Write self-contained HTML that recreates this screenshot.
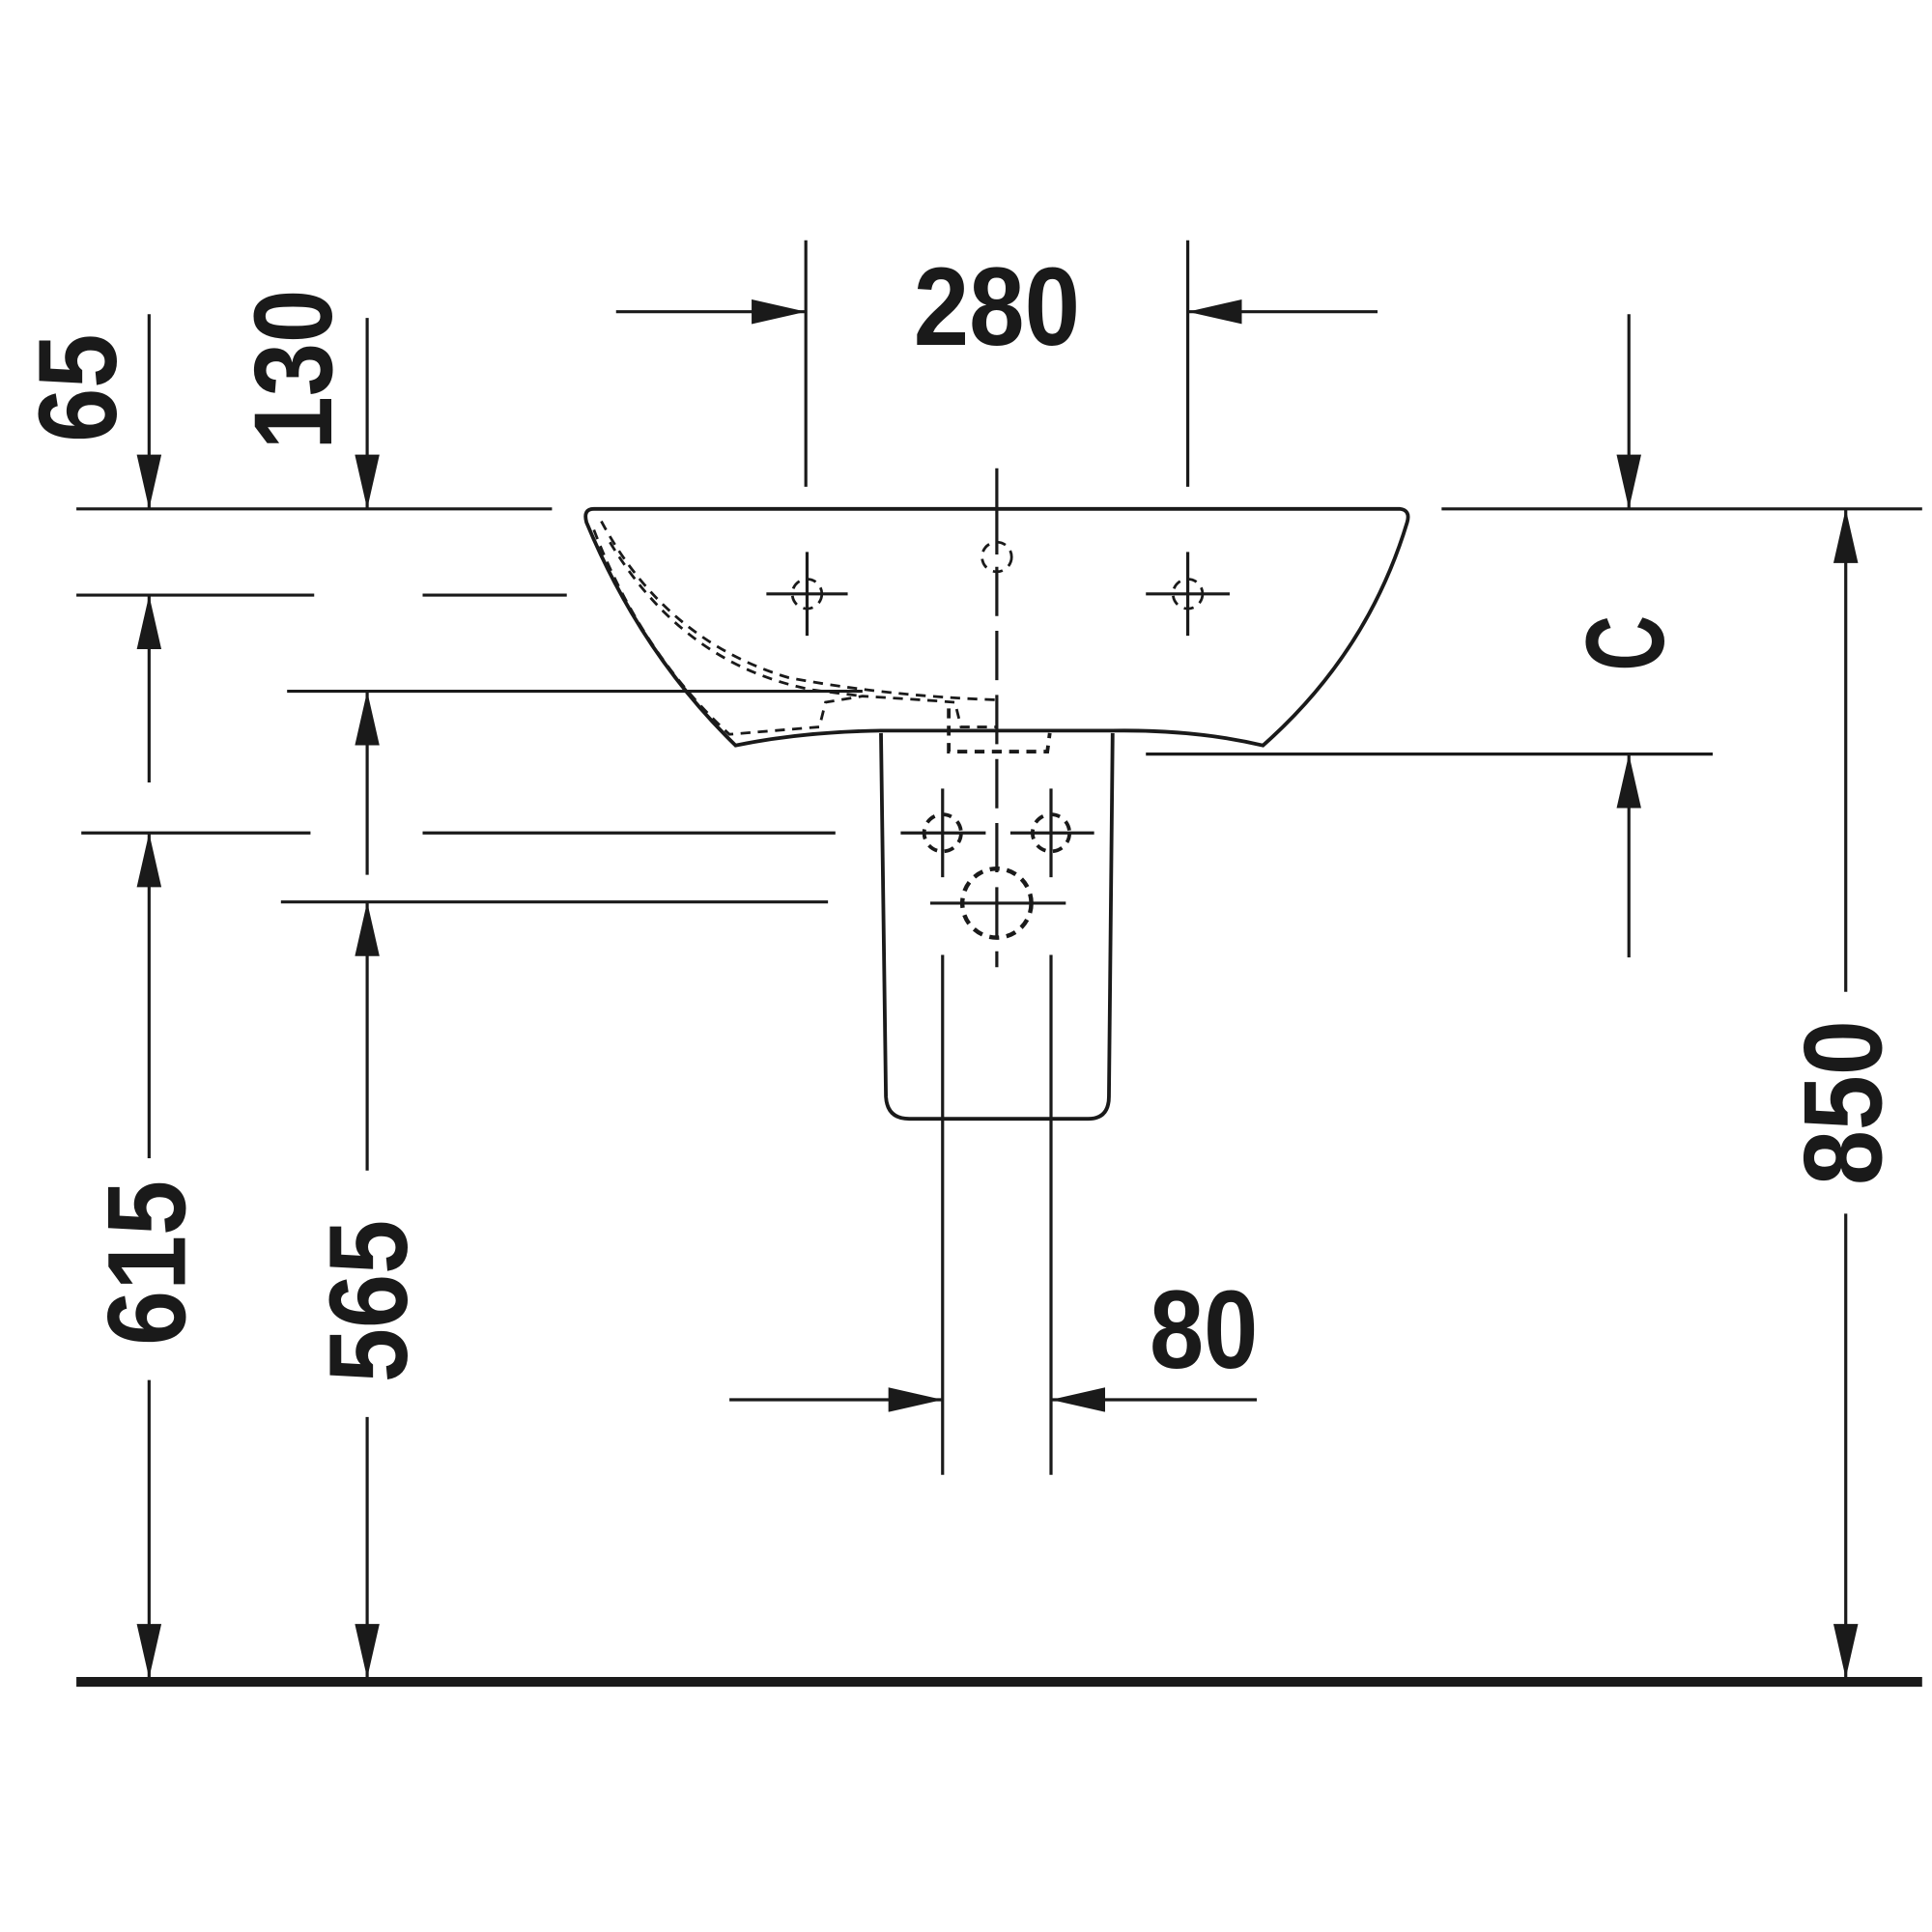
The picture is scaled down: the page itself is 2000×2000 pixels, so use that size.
<!DOCTYPE html>
<html><head><meta charset="utf-8"><style>html,body{margin:0;padding:0;background:#fff}svg{display:block}</style></head>
<body>
<svg width="2000" height="2000" viewBox="0 0 1568 1568" xmlns="http://www.w3.org/2000/svg">
<defs>
<marker id="ar" markerWidth="44" markerHeight="20" refX="44" refY="10" orient="auto" markerUnits="userSpaceOnUse"><path d="M0,0 L44,10 L0,20 Z" fill="#1a1a1a"/></marker>
</defs>
<g stroke="#1a1a1a" stroke-width="2.5" fill="none">
<line x1="62" y1="1365" x2="1560" y2="1365" stroke-width="8"/>
<line x1="62" y1="413" x2="448" y2="413"/>
<line x1="1170" y1="413" x2="1560" y2="413"/>
<line x1="62" y1="483" x2="255" y2="483"/>
<line x1="343" y1="483" x2="460" y2="483"/>
<line x1="233" y1="561" x2="700" y2="561"/>
<line x1="66" y1="676" x2="252" y2="676"/>
<line x1="343" y1="676" x2="678" y2="676"/>
<line x1="228" y1="732" x2="672" y2="732"/>
<line x1="930" y1="612" x2="1390" y2="612"/>
<line x1="121" y1="255" x2="121" y2="413" marker-end="url(#ar)"/>
<line x1="298" y1="258" x2="298" y2="413" marker-end="url(#ar)"/>
<line x1="121" y1="635" x2="121" y2="483" marker-end="url(#ar)"/>
<line x1="298" y1="710" x2="298" y2="561" marker-end="url(#ar)"/>
<line x1="121" y1="940" x2="121" y2="676" marker-end="url(#ar)"/>
<line x1="121" y1="1120" x2="121" y2="1362" marker-end="url(#ar)"/>
<line x1="298" y1="950" x2="298" y2="732" marker-end="url(#ar)"/>
<line x1="298" y1="1150" x2="298" y2="1362" marker-end="url(#ar)"/>
<line x1="654" y1="195" x2="654" y2="395"/>
<line x1="964" y1="195" x2="964" y2="395"/>
<line x1="500" y1="253" x2="654" y2="253" marker-end="url(#ar)"/>
<line x1="1118" y1="253" x2="964" y2="253" marker-end="url(#ar)"/>
<line x1="1322" y1="255" x2="1322" y2="413" marker-end="url(#ar)"/>
<line x1="1322" y1="777" x2="1322" y2="612" marker-end="url(#ar)"/>
<line x1="1498" y1="805" x2="1498" y2="413" marker-end="url(#ar)"/>
<line x1="1498" y1="985" x2="1498" y2="1362" marker-end="url(#ar)"/>
<line x1="765" y1="775" x2="765" y2="1197"/>
<line x1="853" y1="775" x2="853" y2="1197"/>
<line x1="592" y1="1136" x2="765" y2="1136" marker-end="url(#ar)"/>
<line x1="1020" y1="1136" x2="853" y2="1136" marker-end="url(#ar)"/>
<line x1="809" y1="380" x2="809" y2="450"/>
<line x1="809" y1="460" x2="809" y2="785" stroke-dasharray="40,12"/>
<path d="M482,413 L1136,413 Q1145,414 1142,424 Q1110,530 1025,605 Q970,592 903,593 L715,593 Q650,594 597,605 Q520,530 476,424 Q473,413 482,413 Z" stroke-width="3"/>
<path d="M715,595 L719,890 Q720,908 738,908 L883,908 Q900,908 900,890 L903,595" stroke-width="3"/>
<g stroke-dasharray="8,6" stroke-width="2.2">
<path d="M488,423 Q540,520 640,550 Q720,565 809,568"/>
<path d="M495,440 Q555,540 660,560 L700,565"/>
<path d="M482,430 Q520,530 592,596 Q640,592 665,590 L670,570 L700,565 Q750,568 775,570 L780,590 L809,590"/>
<path d="M770,575 L770,610 L850,610 L852,595" stroke-width="3"/>
<circle cx="809" cy="452" r="12"/>
<circle cx="655" cy="482" r="12"/>
<circle cx="964" cy="482" r="12"/>
<circle cx="765" cy="676" r="15" stroke-width="3"/>
<circle cx="853" cy="676" r="15" stroke-width="3"/>
<circle cx="809" cy="733" r="28" stroke-width="3.5"/>
</g>
<line x1="622" y1="482" x2="688" y2="482"/><line x1="655" y1="448" x2="655" y2="516"/>
<line x1="930" y1="482" x2="998" y2="482"/><line x1="964" y1="448" x2="964" y2="516"/>
<line x1="731" y1="676" x2="800" y2="676"/><line x1="765" y1="640" x2="765" y2="712"/>
<line x1="820" y1="676" x2="888" y2="676"/><line x1="853" y1="640" x2="853" y2="712"/>
<line x1="755" y1="733" x2="865" y2="733"/>
</g>
<g font-family="Liberation Sans, sans-serif" font-weight="bold" font-size="90" fill="#1a1a1a" text-anchor="middle">
<text x="809" y="280" textLength="135" lengthAdjust="spacingAndGlyphs">280</text>
<text x="977" y="1110" textLength="88" lengthAdjust="spacingAndGlyphs">80</text>
<text transform="translate(62,315) rotate(-90)" y="32" textLength="88" lengthAdjust="spacingAndGlyphs">65</text>
<text transform="translate(237,300) rotate(-90)" y="32" textLength="130" lengthAdjust="spacingAndGlyphs">130</text>
<text transform="translate(118,1025) rotate(-90)" y="32" textLength="134" lengthAdjust="spacingAndGlyphs">615</text>
<text transform="translate(298,1056) rotate(-90)" y="32" textLength="132" lengthAdjust="spacingAndGlyphs">565</text>
<text transform="translate(1495,895) rotate(-90)" y="32" textLength="134" lengthAdjust="spacingAndGlyphs">850</text>
<text transform="translate(1318,522) rotate(-90)" y="32" textLength="45" lengthAdjust="spacingAndGlyphs">C</text>
</g>
</svg>
</body></html>
